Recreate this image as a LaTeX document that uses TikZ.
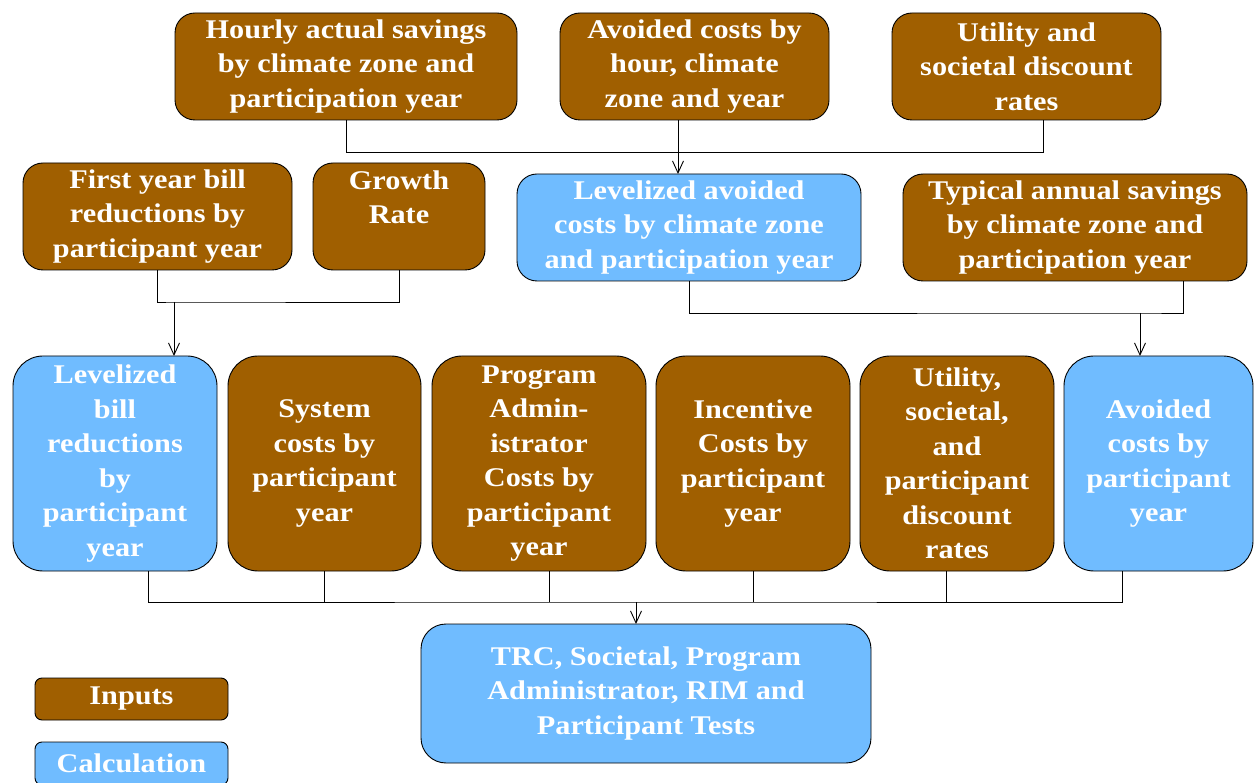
\documentclass[tikz,border=0pt]{standalone}
\usepackage{fontspec}
\setmainfont{Liberation Serif}[FakeStretch=1.12]
\usepackage{tikz}
\usetikzlibrary{arrows.meta}
\definecolor{inbrown}{RGB}{160,95,0}
\definecolor{calcblue}{RGB}{112,188,255}
\tikzstyle{basebox} = [draw=black, line width=0.9pt, rounded corners=20pt, inner sep=0pt, outer sep=0pt, align=center, text=white, font=\bfseries\fontsize{27}{34.5}\selectfont]
\tikzstyle{inbox} = [basebox, fill=inbrown]
\tikzstyle{calcbox} = [basebox, fill=calcblue]
\tikzstyle{link} = [line width=0.9pt]
\tikzstyle{arr} = [link, -{Straight Barb[length=12pt,width=11pt,line width=0.9pt]}]

\begin{document}
\begin{tikzpicture}[x=1pt,y=-1pt]
	\useasboundingbox (0,0) rectangle (1254,783);
	\clip (0,0) rectangle (1254,783);
	% top row
	\node[inbox, minimum width=342, minimum height=107](hourly) at (346,66.5){Hourly actual savings\\by climate zone and\\participation year};
	\node[inbox, minimum width=269, minimum height=107](avoided) at (694.5,66.5){Avoided costs by\\hour, climate\\zone and year};
	\node[inbox, minimum width=269, minimum height=107](utilA) at (1026.5,66.5){Utility and\\societal discount\\rates};
	% second row
	\node[inbox, minimum width=269, minimum height=107](first) at (157.5,216.5){First year bill\\reductions by\\participant year};
	\node[inbox, minimum width=172, minimum height=107](growth) at (399,216.5){\parbox[t][92pt][t]{160pt}{\centering Growth\\Rate}};
	\node[calcbox, minimum width=344, minimum height=107](levav) at (689,227.5){Levelized avoided\\costs by climate zone\\and participation year};
	\node[inbox, minimum width=344, minimum height=107](typical) at (1075,227.5){Typical annual savings\\by climate zone and\\participation year};
	% third row
	\node[calcbox, rounded corners=30pt, minimum width=204, minimum height=215](levbill) at (115,463.5){Levelized\\bill\\reductions\\by\\participant\\year};
	\node[inbox, rounded corners=30pt, minimum width=193, minimum height=215](system) at (324.5,463.5){System\\costs by\\participant\\year};
	\node[inbox, rounded corners=30pt, minimum width=214, minimum height=215](padmin) at (539,463.5){Program\\Admin-\\istrator\\Costs by\\participant\\year};
	\node[inbox, rounded corners=30pt, minimum width=194, minimum height=215](incent) at (753,463.5){Incentive\\Costs by\\participant\\year};
	\node[inbox, rounded corners=30pt, minimum width=194, minimum height=215](utilB) at (957,463.5){Utility,\\societal,\\and\\participant\\discount\\rates};
	\node[calcbox, rounded corners=30pt, minimum width=189, minimum height=215](avpp) at (1158.5,463.5){Avoided\\costs by\\participant\\year};
	% result
	\node[calcbox, rounded corners=25pt, minimum width=450, minimum height=139](tests) at (646,693.5){TRC, Societal, Program\\Administrator, RIM and\\Participant Tests};
	% legend
	\node[inbox, rounded corners=7pt, minimum width=193, minimum height=42](leginput) at (131.5,699){Inputs};
	\node[calcbox, rounded corners=7pt, minimum width=193, minimum height=43](legcalc) at (131.5,763.5){Calculation};

	% connectors
	\coordinate (jtop) at (678,152);
	\coordinate (jleft) at (174,302);
	\coordinate (jright) at (1140,313);
	\coordinate (jbot) at (636,602);
	\draw[link] (hourly.south) |- (jtop);
	\draw[link] ([xshift=16.5pt]utilA.south) |- (jtop);
	\draw[arr] (avoided.south -| jtop) -- (levav.north -| jtop);

	\draw[link] (first.south) |- (jleft) -| (growth.south);
	\draw[arr] (jleft) -- (levbill.north -| jleft);

	\draw[link] (levav.south) |- (jright) -| ([xshift=108pt]typical.south);
	\draw[arr] (jright) -- (avpp.north -| jright);

	\draw[link] ([xshift=33pt]levbill.south) |- (jbot) -| ([xshift=-36.5pt]avpp.south);
	\draw[link] (system.south) -- (system.south |- jbot);
	\draw[link] ([xshift=10pt]padmin.south) -- ([xshift=10pt]padmin.south |- jbot);
	\draw[link] (incent.south) -- (incent.south |- jbot);
	\draw[link] ([xshift=-11pt]utilB.south) -- ([xshift=-11pt]utilB.south |- jbot);
	\draw[arr] (jbot) -- (tests.north -| jbot);
\end{tikzpicture}
\end{document}
